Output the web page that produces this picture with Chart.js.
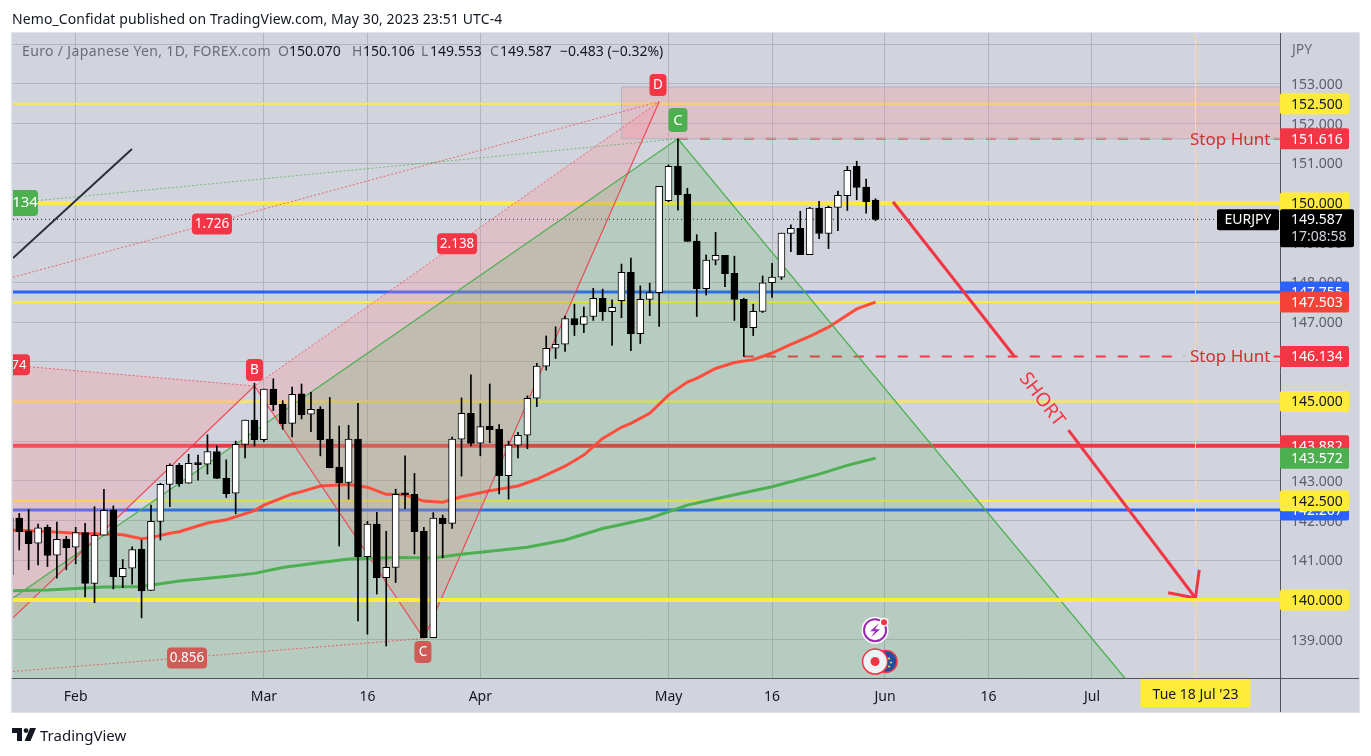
<!DOCTYPE html>
<html>
<head>
<meta charset="utf-8">
<title>EURJPY</title>
<script src="https://cdn.jsdelivr.net/npm/chart.js@4"></script>
<style>
  html, body { margin: 0; padding: 0; background: #fff; overflow: hidden; }
  body { width: 1371px; height: 756px; position: relative; font-family: "Noto Sans", sans-serif; color: #131722; }
  canvas { position: absolute; left: 0; top: 0; }
  #publicado { position: absolute; left: 12px; top: 9px; font-size: 14px; line-height: 19px; letter-spacing: .1px; white-space: nowrap; }
  #marca { position: absolute; left: 12px; top: 725px; height: 19px; display: flex; align-items: center; font-size: 15px; }
  #marca svg { margin-right: 4px; }
</style>
</head>
<body>
<canvas id="grafico" width="1371" height="756"></canvas>
<div id="publicado">Nemo_Confidat published on TradingView.com, May 30, 2023 23:51 UTC-4</div>
<div id="marca">
  <svg width="24" height="13" viewBox="0 0 24 13"><path d="M0 0h10v13H5V5H0z M14 5a2.4 2.4 0 1 0 0-4.8 2.4 2.4 0 0 0 0 4.8z M18 0h6l-5.5 13H12.6z" fill="#131722"/></svg>
  <span>TradingView</span>
</div>
<script>
// bar 0 = 1 Feb 2023, one step per trading day
const firstBar = -7;
const opens = [140.63, 142.06, 141.74, 141.43, 141.83, 141.13, 141.53, 141.33, 141.70, 140.42, 141.63, 142.27, 140.59, 140.80, 141.28, 140.24, 141.98, 142.91, 143.39, 142.94, 143.44, 143.42, 143.74, 143.07, 142.69, 143.92, 144.53, 144.04, 145.31, 144.93, 144.45, 145.19, 144.68, 144.80, 144.05, 143.35, 142.96, 144.05, 141.09, 141.91, 140.56, 140.82, 142.67, 142.66, 141.73, 139.05, 142.06, 141.93, 144.05, 144.70, 143.95, 144.38, 144.30, 143.13, 143.90, 144.15, 145.08, 145.89, 146.34, 146.44, 147.09, 146.94, 147.14, 147.60, 147.26, 147.54, 148.25, 146.71, 147.57, 147.74, 150.06, 150.92, 150.22, 149.04, 147.84, 148.56, 148.68, 148.23, 147.57, 146.86, 147.27, 147.99, 148.13, 149.23, 149.36, 148.70, 149.87, 149.23, 149.89, 150.18, 150.92, 150.40, 150.07];
const highs = [142.15, 142.18, 142.28, 141.91, 141.89, 141.96, 141.60, 141.83, 141.93, 142.35, 142.79, 142.37, 141.02, 141.34, 141.51, 142.39, 142.94, 143.43, 143.44, 143.67, 143.65, 144.16, 143.88, 143.53, 144.00, 144.53, 145.46, 145.31, 145.57, 145.02, 145.36, 145.44, 145.23, 144.87, 145.10, 144.38, 144.40, 144.95, 141.98, 142.21, 141.73, 142.79, 143.63, 143.19, 141.83, 142.20, 142.14, 144.10, 145.09, 145.67, 144.94, 145.44, 144.42, 144.00, 144.22, 145.14, 145.96, 146.65, 146.88, 147.15, 147.45, 147.38, 147.85, 147.83, 147.56, 148.46, 148.61, 147.91, 147.98, 150.42, 150.96, 151.616, 150.37, 149.20, 148.69, 149.26, 148.68, 148.66, 147.60, 147.45, 148.16, 148.48, 149.24, 149.45, 149.79, 149.89, 150.04, 149.92, 150.30, 150.92, 151.05, 150.60, 150.106];
const lows = [140.50, 141.26, 140.76, 140.88, 140.84, 140.55, 140.76, 140.91, 140.08, 139.93, 141.63, 140.28, 140.31, 140.40, 139.55, 140.24, 141.51, 142.35, 142.86, 142.94, 143.02, 143.17, 143.06, 142.58, 142.17, 143.58, 143.88, 143.99, 144.77, 144.30, 144.11, 144.56, 144.24, 143.63, 143.33, 141.36, 142.54, 139.47, 139.14, 140.15, 138.84, 140.44, 142.30, 141.16, 139.05, 139.05, 141.06, 141.80, 143.12, 143.88, 143.63, 143.96, 142.67, 142.54, 143.58, 143.81, 144.87, 145.79, 146.08, 146.26, 146.66, 146.73, 147.04, 147.04, 146.41, 147.11, 146.28, 146.46, 147.16, 146.89, 150.03, 149.82, 149.03, 147.14, 147.68, 148.44, 147.89, 147.04, 146.134, 146.66, 147.24, 147.62, 148.07, 148.77, 148.70, 148.70, 149.10, 148.85, 149.30, 149.81, 150.08, 149.74, 149.553];
const closes = [142.06, 141.72, 141.42, 141.82, 141.12, 141.53, 141.32, 141.70, 140.42, 141.63, 142.26, 140.59, 140.80, 141.27, 140.23, 141.98, 142.91, 143.39, 142.93, 143.44, 143.41, 143.74, 143.06, 142.68, 143.92, 144.53, 144.04, 145.31, 144.92, 144.44, 145.18, 144.67, 144.80, 144.04, 143.33, 142.95, 144.05, 141.09, 141.91, 140.56, 140.82, 142.66, 142.65, 141.72, 139.05, 142.06, 141.92, 144.05, 144.70, 143.94, 144.37, 144.29, 143.13, 143.90, 144.15, 145.08, 145.89, 146.34, 146.44, 147.09, 146.93, 147.14, 147.60, 147.26, 147.37, 148.25, 146.71, 147.57, 147.74, 150.42, 150.92, 150.21, 149.03, 147.84, 148.56, 148.68, 148.22, 147.57, 146.86, 147.27, 147.99, 148.13, 149.24, 149.36, 148.70, 149.87, 149.23, 149.89, 150.19, 150.82, 150.39, 150.03, 149.587];

const sma50Bars = [-7, -4, 0, 3, 5, 7, 8, 10, 11, 14, 16, 19, 20, 23, 24, 26, 29, 31, 33, 35, 37, 39, 41, 44, 47, 49, 52, 54, 56, 58, 59, 61, 63, 65, 66, 68, 70, 72, 74, 76, 78, 80, 83, 85];
const sma50Values = [141.76, 141.74, 141.68, 141.66, 141.64, 141.54, 141.57, 141.68, 141.72, 141.94, 142.02, 142.25, 142.39, 142.67, 142.73, 142.87, 142.91, 142.84, 142.66, 142.65, 142.49, 142.46, 142.60, 142.75, 142.87, 143.04, 143.37, 143.65, 144.07, 144.35, 144.45, 144.70, 145.16, 145.49, 145.58, 145.83, 145.98, 146.05, 146.22, 146.44, 146.64, 146.87, 147.33, 147.503];
const sma200Bars = [-7, -3, 0, 3, 7, 11, 16, 19, 22, 25, 29, 34, 38, 41, 48, 52, 56, 58, 61, 65, 70, 74, 79, 82, 85];
const sma200Values = [140.23, 140.25, 140.29, 140.33, 140.34, 140.48, 140.59, 140.67, 140.82, 140.91, 141.03, 141.07, 141.06, 141.15, 141.33, 141.51, 141.80, 141.90, 142.06, 142.39, 142.65, 142.85, 143.17, 143.39, 143.572];

const xTickBars = [0, 20, 31, 43, 63, 74, 86, 97, 108];
const xTickLabels = ['Feb', 'Mar', '16', 'Apr', 'May', '16', 'Jun', '16', 'Jul'];

// horizontal levels
const yellowThin = [152.5, 147.503, 145, 142.5];
const yellowThick = [150];
const blueLevels = [147.755, 142.267];
const redLevel = 143.882;
const supportLevel = 140;
const lastPrice = 149.587;
const stopHuntLevels = [151.616, 146.134];
const stopHuntFromBars = [64, 71];

// harmonic pattern, [bar, price]
const pointX = [-6.66, 139.55];
const pointB = [19, 145.39];
const pointLeftB = [-6.66, 145.91];
const pointC = [37, 139.03];
const pointD = [62, 152.55];
const pointTop = [64, 151.616];
const greenLeft = [-6.66, 140.05];
const greenRight = [111.5, 138.03];
const greenBottomLeft = [-6.66, 138.03];
const xdLeft = [-6.66, 148.13];
const bcLeft = [-6.66, 138.2];
const topLeft = [-6.66, 150.0];
const boxBars = [58, 130];
const boxPrices = [152.92, 151.616];
const blackTrend = [[-6.66, 148.61], [5.98, 151.36]];
const shortLeg1 = [[86.85, 150.03], [99.8, 146.12]];
const shortLeg2 = [[105.5, 144.28], [119, 140.05]];
const shortHead = [[116.1, 140.18], [119, 140.05], [119.4, 140.76]];
const dateBar = 119;
const dateLabel = "Tue 18 Jul '23";

const patternLabels = ['1.726', '2.138', '0.856', 'B', 'D', 'C', 'C'];
const patternLabelBars = [14.48, 40.53, 11.83, 19, 61.88, 64, 36.9];
const patternLabelPrices = [149.47, 148.97, 138.54, 145.79, 152.97, 152.09, 138.69];
const patternLabelColors = ['#f23645', '#f23645', '#cf5b57', '#f23645', '#f23645', '#4caf50', '#cf5b57'];

// price tags, painted in this order
const tagPrices = [152.5, 151.616, 150, 147.755, 147.503, 146.134, 145, 143.882, 143.572, 142.267, 142.5, 140];
const tagColors = ['#ffeb3b', '#f23645', '#ffeb3b', '#2962ff', '#f44336', '#f23645', '#ffeb3b', '#f23645', '#4caf50', '#2962ff', '#ffeb3b', '#ffeb3b'];
const tagInk = ['#131722', '#fff', '#131722', '#fff', '#fff', '#fff', '#131722', '#fff', '#fff', '#fff', '#131722', '#131722'];

const minBar = -6.663, maxBar = 127.98;
const minPrice = 138.035, maxPrice = 154.28;
const fontName = '"Noto Sans", sans-serif';

function line(points, color, width, order, dash) {
  return {
    type: 'line',
    data: points.map(p => ({ x: p[0], y: p[1] })),
    borderColor: color,
    borderWidth: width,
    borderDash: dash || [],
    pointRadius: 0,
    tension: 0,
    fill: false,
    spanGaps: false,
    order
  };
}
const level = (price, color, width, order, dash) =>
  line([[minBar, price], [maxBar, price]], color, width, order, dash);

const datasets = [];
yellowThin.forEach(p => datasets.push(level(p, '#ffeb3b', 2, 9)));
yellowThick.forEach(p => datasets.push(level(p, '#ffeb3b', 4, 9)));
blueLevels.forEach(p => datasets.push(level(p, '#2962ff', 3, 9)));
datasets.push(level(redLevel, '#f23645', 4, 9));
datasets.push(level(lastPrice, '#131722', 1, 9, [1, 3]));
stopHuntLevels.forEach((p, i) => {
  datasets.push(line([[stopHuntFromBars[i], p], [117.8, p], [118, null], [127.3, p], [maxBar, p]], '#f23645', 2, 9, [10, 12]));
});

const sma50 = line(sma50Bars.map((b, i) => [b, sma50Values[i]]), '#ff4d3d', 3, 6);
sma50.label = 'SMA 50';
datasets.push(sma50);
datasets.push(line(sma200Bars.map((b, i) => [b, sma200Values[i]]), '#4caf50', 3, 5));
datasets.push(level(supportLevel, '#ffeb3b', 4, 5));
datasets.push(line([pointX, pointB, pointC, pointD], 'rgba(242,54,69,.85)', 1.2, 5));
datasets.push(line([greenLeft, pointTop, greenRight], '#4caf50', 1.3, 5));
datasets.push(line([pointLeftB, pointB, pointD], 'rgba(242,54,69,.7)', 1, 5, [2, 2]));
datasets.push(line([xdLeft, pointD], 'rgba(242,54,69,.7)', 1, 5, [2, 2]));
datasets.push(line([bcLeft, pointC], 'rgba(242,54,69,.7)', 1, 5, [2, 2]));
datasets.push(line([topLeft, pointTop], 'rgba(76,175,80,.7)', 1, 5, [2, 2]));
datasets.push(line(blackTrend, '#2a2e39', 2, 5));
datasets.push(line(shortLeg1, '#f23645', 3, 5));
datasets.push(line(shortLeg2, '#f23645', 3, 5));
datasets.push(line(shortHead, '#f23645', 3, 5));
datasets.push(line([[dateBar, minPrice], [dateBar, maxPrice]], '#ffeb3b', 1, 5));

// wicks below, bodies on top
datasets.push({
  type: 'bar',
  data: opens.map((_, i) => ({ x: firstBar + i, y: [lows[i], highs[i]] })),
  backgroundColor: '#000',
  barThickness: 1,
  grouped: false,
  order: 1
});
datasets.push({
  type: 'bar',
  data: opens.map((o, i) => ({ x: firstBar + i, y: [o, closes[i]] })),
  backgroundColor: ctx => closes[ctx.dataIndex] >= opens[ctx.dataIndex] ? '#fff' : '#000',
  borderColor: '#000',
  borderWidth: 1,
  borderSkipped: false,
  barThickness: 7,
  minBarLength: 2,
  grouped: false,
  order: 0
});

function roundRect(ctx, x, y, w, h, r, color) {
  ctx.fillStyle = color;
  ctx.beginPath();
  ctx.roundRect(x, y, w, h, r);
  ctx.fill();
}

function text(ctx, str, x, y, color, size, align) {
  ctx.fillStyle = color;
  ctx.font = (size || 14) + 'px ' + fontName;
  ctx.textAlign = align || 'left';
  ctx.textBaseline = 'middle';
  ctx.fillText(str, x, y);
}

const chartPlugin = {
  id: 'desenho',
  beforeDraw(chart) {
    const ctx = chart.ctx;
    ctx.save();
    ctx.fillStyle = '#d1d4dc';
    ctx.fillRect(12, 33, 1347, 679);
    ctx.strokeStyle = '#e0e3eb';
    ctx.strokeRect(11.5, 32.5, 1348, 680);
    ctx.restore();
  },
  // shaded areas sit above the levels but below the averages
  beforeDatasetDraw(chart, args) {
    if (chart.data.datasets[args.index].label !== 'SMA 50') return;
    const { ctx, chartArea: a, scales: { x, y } } = chart;
    const poly = (pts, color) => {
      ctx.fillStyle = color;
      ctx.beginPath();
      pts.forEach((p, i) => {
        const px = x.getPixelForValue(p[0]), py = y.getPixelForValue(p[1]);
        if (i) ctx.lineTo(px, py); else ctx.moveTo(px, py);
      });
      ctx.closePath();
      ctx.fill();
    };
    ctx.save();
    ctx.beginPath();
    ctx.rect(a.left, a.top, a.right - a.left, a.bottom - a.top);
    ctx.clip();
    const pink = 'rgba(255,140,155,.28)';
    poly([pointX, pointB, pointLeftB], pink);
    poly([pointB, pointC, pointD], pink);
    poly([[boxBars[0], boxPrices[0]], [boxBars[1], boxPrices[0]], [boxBars[1], boxPrices[1]], [boxBars[0], boxPrices[1]]], pink);
    poly([greenLeft, pointTop, greenRight, greenBottomLeft], 'rgba(76,175,80,.2)');
    // box outline
    const bx = x.getPixelForValue(boxBars[0]);
    const by0 = y.getPixelForValue(boxPrices[0]), by1 = y.getPixelForValue(boxPrices[1]);
    ctx.strokeStyle = '#b2b5be';
    ctx.lineWidth = 1;
    ctx.strokeRect(bx, by0, a.right - bx + 5, by1 - by0);
    ctx.restore();
  },
  afterDraw(chart) {
    const { ctx, chartArea: a, scales: { x, y } } = chart;
    ctx.save();

    // axis lines
    ctx.strokeStyle = '#50535e';
    ctx.lineWidth = 1;
    ctx.beginPath();
    ctx.moveTo(a.right + 0.5, 33);
    ctx.lineTo(a.right + 0.5, 712);
    ctx.moveTo(12, a.bottom + 0.5);
    ctx.lineTo(1359, a.bottom + 0.5);
    ctx.stroke();

    // pattern labels, clipped at the plot edge
    ctx.save();
    ctx.beginPath();
    ctx.rect(a.left, a.top, a.right - a.left, a.bottom - a.top);
    ctx.clip();
    patternLabels.forEach((t, i) => {
      const cx = x.getPixelForValue(patternLabelBars[i]);
      const cy = y.getPixelForValue(patternLabelPrices[i]);
      const big = patternLabelColors[i] === '#4caf50';
      const w = t.length > 1 ? 40 : (big ? 19 : 17);
      const h = t.length > 1 ? 21 : (big ? 24 : 22);
      roundRect(ctx, cx - w / 2, cy - h / 2, w, h, 4, patternLabelColors[i]);
      text(ctx, t, cx, cy + 0.5, '#fff', big ? 15 : 13.5, 'center');
    });
    const topY = y.getPixelForValue(topLeft[1]);
    roundRect(ctx, 0, topY - 13, 38, 26, 4, '#4caf50');
    text(ctx, '134', 25, topY, '#fff', 15, 'center');
    const leftBY = y.getPixelForValue(pointLeftB[1]);
    roundRect(ctx, 0, leftBY - 11, 30, 21, 4, '#f23645');
    text(ctx, '74', 19, leftBY, '#fff', 13, 'center');
    ctx.restore();

    // stop hunt captions
    stopHuntLevels.forEach(p => text(ctx, 'Stop Hunt', 1190, y.getPixelForValue(p) + 1, '#d32f2f', 17));

    // SHORT along the arrow
    ctx.save();
    ctx.translate(x.getPixelForValue(102.65), y.getPixelForValue(145.05));
    ctx.rotate(52.7 * Math.PI / 180);
    text(ctx, 'SHORT', 0, 0, '#f23645', 19, 'center');
    ctx.restore();

    // legend line
    ctx.letterSpacing = '0.35px';
    text(ctx, 'Euro / Japanese Yen, 1D, FOREX.com', 22, 52, '#6a6d78');
    ctx.letterSpacing = '0px';
    [['O', '150.070', 278, 289], ['H', '150.106', 352, 363], ['L', '149.553', 421, 430], ['C', '149.587', 490, 500]].forEach(v => {
      text(ctx, v[0], v[2], 52, '#6a6d78');
      text(ctx, v[1], v[3], 52, '#131722');
    });
    text(ctx, '\u22120.483 (\u22120.32%)', 560, 52, '#131722');

    // right axis
    text(ctx, 'JPY', 1292, 50, '#6a6d78');
    tagPrices.forEach((p, i) => {
      const cy = y.getPixelForValue(p);
      roundRect(ctx, a.right, cy - 10.5, 69, 21, 2, tagColors[i]);
      text(ctx, p.toFixed(3), a.right + 11, cy + 1, tagInk[i]);
    });
    const lastY = y.getPixelForValue(lastPrice);
    roundRect(ctx, a.right, lastY - 10, 74, 38, 2, '#000');
    text(ctx, lastPrice.toFixed(3), a.right + 11, lastY + 1, '#fff');
    text(ctx, '17:08:58', a.right + 11, lastY + 18, '#d1d4dc');
    roundRect(ctx, a.right - 63, lastY - 10, 62, 21, 2, '#000');
    text(ctx, 'EURJPY', a.right - 32, lastY + 1, '#fff', 14, 'center');

    // crosshair date
    const dateX = x.getPixelForValue(dateBar);
    ctx.fillStyle = '#ffeb3b';
    ctx.fillRect(dateX - 55, a.bottom + 1, 110, 28);
    text(ctx, dateLabel, dateX, a.bottom + 17, '#131722', 14, 'center');

    // alert and event icons
    const iconX = x.getPixelForValue(85) - 0.5;
    const boltY = y.getPixelForValue(139.24);
    const flagY = y.getPixelForValue(138.45);
    ctx.fillStyle = '#fff';
    ctx.beginPath(); ctx.arc(iconX, boltY, 13.5, 0, Math.PI * 2); ctx.fill();
    ctx.strokeStyle = '#9c27b0';
    ctx.lineWidth = 2;
    ctx.beginPath(); ctx.arc(iconX, boltY, 11, 0, Math.PI * 2); ctx.stroke();
    ctx.fillStyle = '#9c27b0';
    ctx.beginPath();
    ctx.moveTo(iconX + 4, boltY - 7); ctx.lineTo(iconX - 5, boltY + 1); ctx.lineTo(iconX, boltY + 1);
    ctx.lineTo(iconX - 4, boltY + 7); ctx.lineTo(iconX + 5, boltY - 1); ctx.lineTo(iconX, boltY - 1);
    ctx.closePath(); ctx.fill();
    ctx.fillStyle = '#fff';
    ctx.beginPath(); ctx.arc(iconX + 9, boltY - 8, 4.5, 0, Math.PI * 2); ctx.fill();
    ctx.fillStyle = '#f23645';
    ctx.beginPath(); ctx.arc(iconX + 9, boltY - 8, 3, 0, Math.PI * 2); ctx.fill();

    ctx.fillStyle = '#1e4fa0';
    ctx.strokeStyle = '#f23645';
    ctx.lineWidth = 1.5;
    ctx.beginPath(); ctx.arc(iconX + 11, flagY, 11, 0, Math.PI * 2); ctx.fill(); ctx.stroke();
    ctx.fillStyle = '#ffeb3b';
    [[-1, -5], [3, -3], [5, 1], [3, 5], [-1, 6]].forEach(d => {
      ctx.beginPath(); ctx.arc(iconX + 11 + d[0], flagY + d[1], 1, 0, Math.PI * 2); ctx.fill();
    });
    ctx.fillStyle = '#eef1f6';
    ctx.beginPath(); ctx.arc(iconX, flagY, 12.5, 0, Math.PI * 2); ctx.fill(); ctx.stroke();
    ctx.fillStyle = '#f23645';
    ctx.beginPath(); ctx.arc(iconX, flagY, 4.5, 0, Math.PI * 2); ctx.fill();

    ctx.restore();
  }
};

new Chart(document.getElementById('grafico'), {
  type: 'bar',
  data: { datasets },
  plugins: [chartPlugin],
  options: {
    responsive: false,
    animation: false,
    events: [],
    layout: { padding: { left: 13, top: 33, right: 12, bottom: 44 } },
    plugins: { legend: { display: false }, tooltip: { enabled: false }, title: { display: false } },
    scales: {
      x: {
        type: 'linear',
        offset: false,
        min: minBar,
        max: maxBar,
        grid: { color: '#b2b5be', offset: false, drawTicks: false },
        border: { display: false },
        afterBuildTicks: scale => { scale.ticks = xTickBars.map(value => ({ value })); },
        afterFit: scale => { scale.height = 34; },
        ticks: {
          autoSkip: false,
          maxRotation: 0,
          padding: 11,
          color: '#131722',
          font: { family: fontName, size: 14 },
          callback: value => xTickLabels[xTickBars.indexOf(value)]
        }
      },
      y: {
        position: 'right',
        min: minPrice,
        max: maxPrice,
        grid: { color: '#b2b5be', drawTicks: false },
        border: { display: false },
        afterFit: scale => { scale.width = 79; },
        ticks: {
          stepSize: 1,
          includeBounds: false,
          padding: 11,
          labelOffset: 1,
          color: '#5d606b',
          font: { family: fontName, size: 14 },
          // 154 has a grid line but no caption, JPY sits there
          callback: value => value >= 154 ? '' : value.toFixed(3)
        }
      }
    }
  }
});
</script>
</body>
</html>
